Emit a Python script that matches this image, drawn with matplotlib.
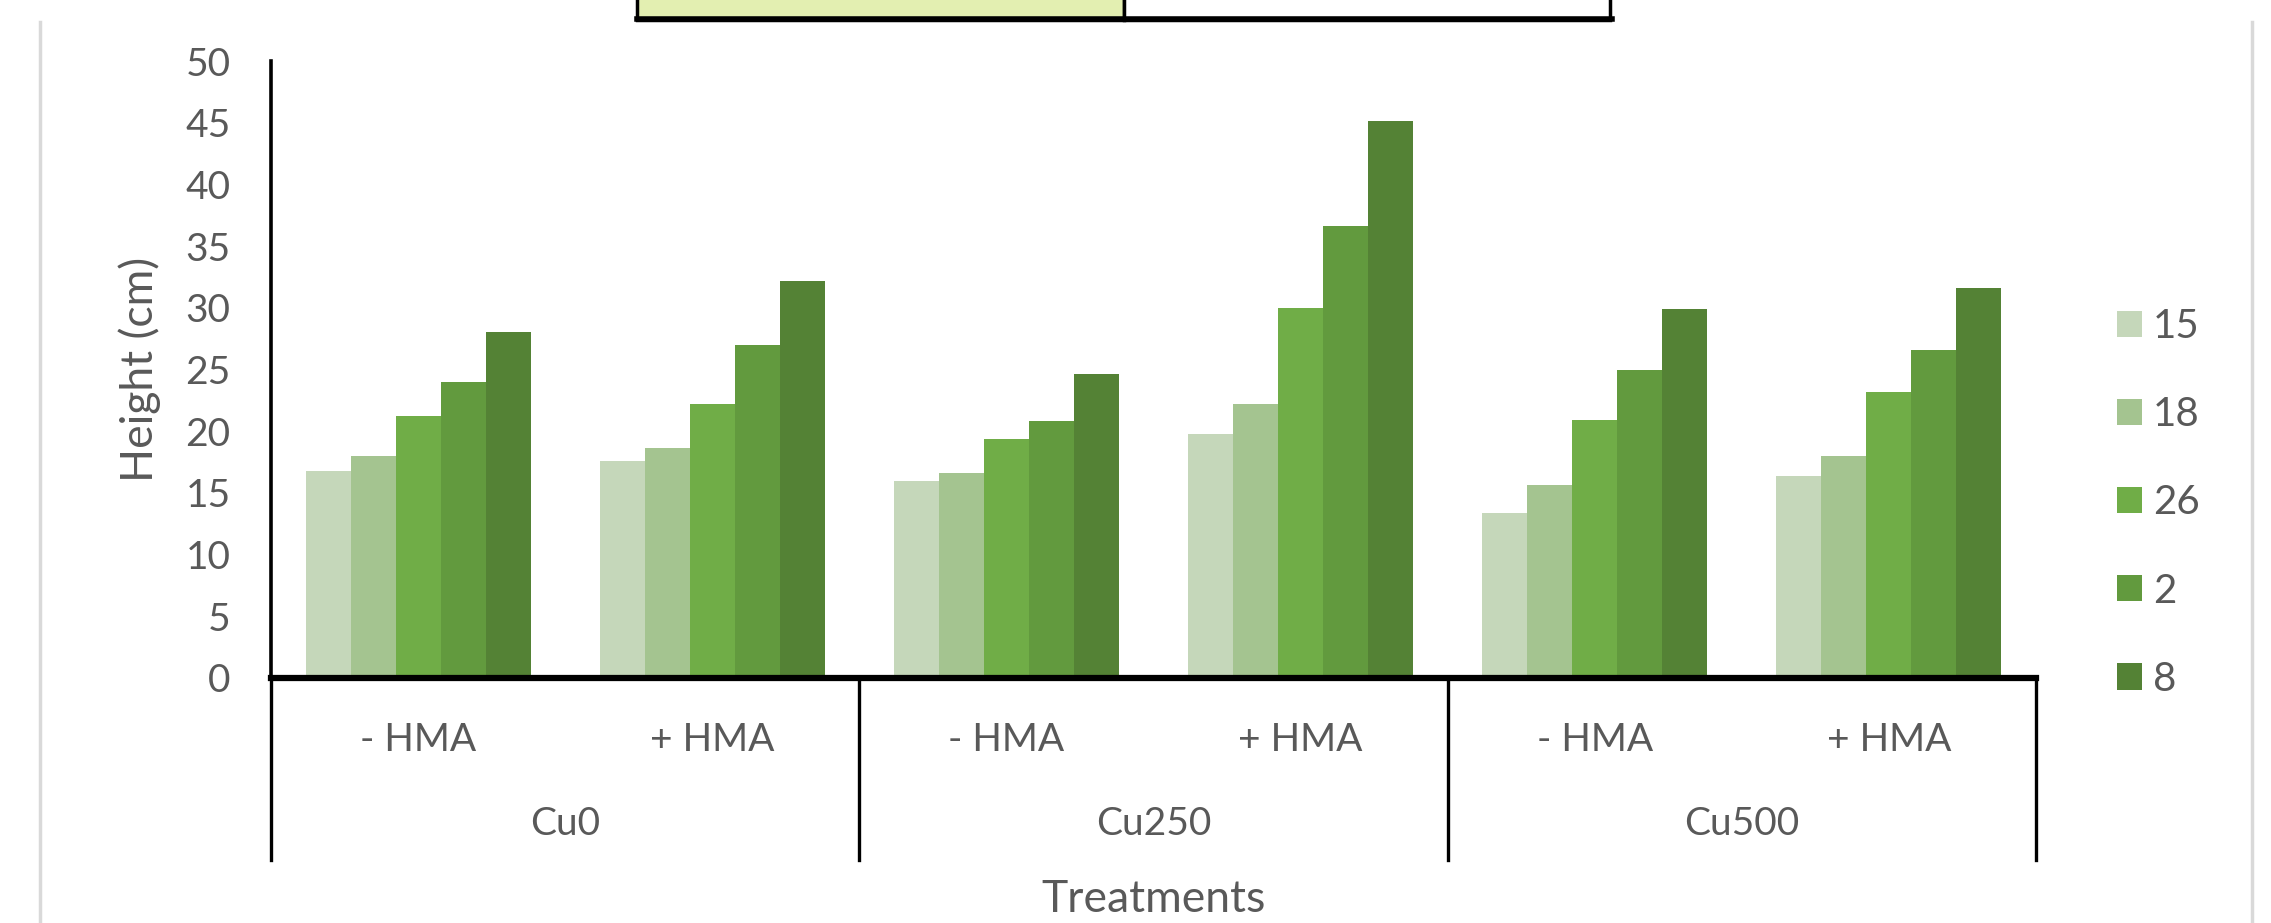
import matplotlib

matplotlib.use("Agg")
import matplotlib.pyplot as plt
import numpy as np
from matplotlib.lines import Line2D
from matplotlib.patches import Patch, Rectangle

plt.rcParams["font.family"] = ["Lato", "DejaVu Sans"]

# treatment groups and the HMA sub-groups inside each
groups = ["Cu0", "Cu250", "Cu500"]
sub_labels = ["- HMA", "+ HMA"]
series = ["15", "18", "26", "2", "8"]

# height (cm) per bar position: Cu0 -/+, Cu250 -/+, Cu500 -/+
h_15 = [16.8, 17.6, 16.0, 19.8, 13.4, 16.4]
h_18 = [18.0, 18.6, 16.6, 22.2, 15.6, 18.0]
h_26 = [21.2, 22.2, 19.4, 30.0, 20.9, 23.2]
h_2 = [24.0, 27.0, 20.8, 36.6, 25.0, 26.6]
h_8 = [28.0, 32.2, 24.6, 45.1, 29.9, 31.6]

colors = ["#C5D7BA", "#A4C490", "#70AD47", "#629A3E", "#548235"]
text_grey = "#595959"

W, H = 2271, 923
fig = plt.figure(figsize=(W / 100, H / 100), dpi=100)
fig.patch.set_facecolor("white")


def fx(x):
    return x / W


def fy(y):
    return 1 - y / H


# plot area in pixel terms
left, right, top, base = 271, 2036, 61, 678
ax = fig.add_axes([fx(left), fy(base), fx(right - left), (base - top) / H])

values = [h_15, h_18, h_26, h_2, h_8]
x = np.arange(len(h_15))
bw = 0.153
for i, (vals, col, name) in enumerate(zip(values, colors, series)):
    ax.bar(x + (i - 2) * bw, vals, width=bw, color=col, edgecolor="none",
           label=name, zorder=2)

ax.set_xlim(-0.5, 5.5)
ax.set_ylim(0, 50)
ax.set_yticks(np.arange(0, 51, 5))
ax.tick_params(axis="y", length=0, pad=29, labelsize=28, labelcolor=text_grey)
ax.set_xticks([])
for side in ("top", "right"):
    ax.spines[side].set_visible(False)
ax.spines["left"].set_linewidth(2.6)
ax.spines["bottom"].set_linewidth(4.5)
ax.spines["left"].set_color("black")
ax.spines["bottom"].set_color("black")

# two-level category axis below the bars
sep_bottom = (base - 860) / (base - top)
for k in range(4):
    xs = -0.5 + 2 * k
    ax.plot([xs, xs], [0, sep_bottom], color="black", lw=2.4,
            transform=ax.get_xaxis_transform(), clip_on=False)

inner_y = (base - 740) / (base - top)
outer_y = (base - 824) / (base - top)
for i in range(6):
    ax.text(i, inner_y, sub_labels[i % 2], transform=ax.get_xaxis_transform(),
            ha="center", va="center", fontsize=28, color=text_grey)
for g, name in enumerate(groups):
    ax.text(2 * g + 0.5, outer_y, name, transform=ax.get_xaxis_transform(),
            ha="center", va="center", fontsize=28, color=text_grey)

ax.text(0.5, (base - 899) / (base - top), "Treatments", transform=ax.transAxes,
        ha="center", va="center", fontsize=32, color=text_grey)
ax.text((140 - left) / (right - left), 0.5, "Height (cm)", transform=ax.transAxes,
        rotation=90, ha="center", va="center", fontsize=32, color=text_grey)

handles = [Patch(facecolor=c, edgecolor="none") for c in colors]
fig.legend(handles, series, loc="upper left",
           bbox_to_anchor=(fx(2101), fy(292)), frameon=False, fontsize=29,
           handlelength=0.62, handleheight=0.62, handletextpad=0.27,
           labelspacing=1.27, labelcolor=text_grey, borderaxespad=0)

# chart area edges
for xe in (40, 2252):
    fig.add_artist(Line2D([fx(xe), fx(xe)], [fy(22), 0], color="#D9D9D9", lw=2.5))

# header cells cut off at the top edge
fig.add_artist(Rectangle((fx(637), fy(20)), fx(1124 - 637), 30 / H,
                         facecolor="#E3EFB1", edgecolor="black", lw=2.5,
                         transform=fig.transFigure))
fig.add_artist(Rectangle((fx(1124), fy(20)), fx(1610 - 1124), 30 / H,
                         facecolor="white", edgecolor="black", lw=2.5,
                         transform=fig.transFigure))
fig.add_artist(Line2D([fx(637), fx(1612)], [fy(19), fy(19)], color="black", lw=4))

fig.savefig("out.png", dpi=100)
